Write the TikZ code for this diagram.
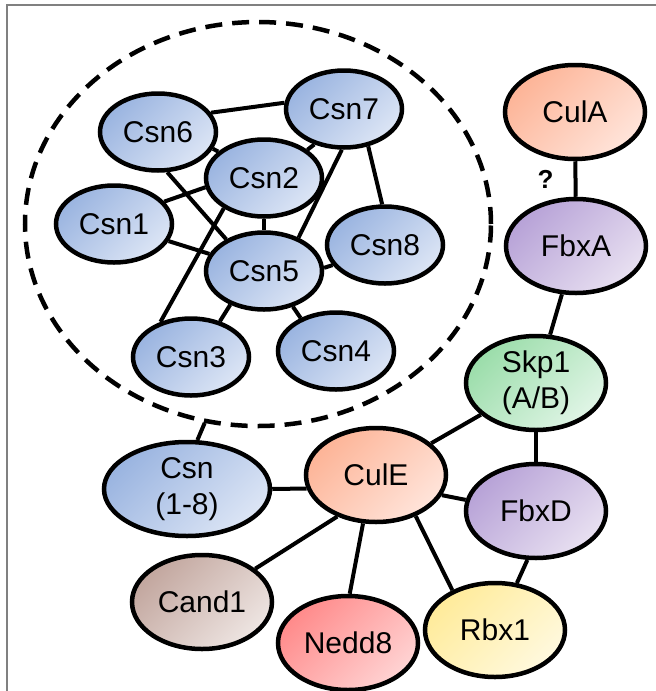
\documentclass[tikz,border=0pt]{standalone}
\usepackage{fontspec}
\setmainfont{Liberation Sans}
\usetikzlibrary{shapes.geometric}

\definecolor{bluedark}{HTML}{9AB4E0}
\definecolor{bluelight}{HTML}{DCE5F5}
\definecolor{salmondark}{HTML}{FDB497}
\definecolor{salmonlight}{HTML}{FFE4DA}
\definecolor{purpledark}{HTML}{B7A2D7}
\definecolor{purplelight}{HTML}{E8E0F1}
\definecolor{greendark}{HTML}{9BDDAA}
\definecolor{greenlight}{HTML}{E0F5E6}
\definecolor{browndark}{HTML}{C2A69E}
\definecolor{brownlight}{HTML}{EEE5E2}
\definecolor{reddark}{HTML}{FF8A8A}
\definecolor{redlight}{HTML}{FFD3D3}
\definecolor{yellowdark}{HTML}{FFEB9A}
\definecolor{yellowlight}{HTML}{FFF9DE}
\definecolor{framegray}{HTML}{808080}

\begin{document}
\begin{tikzpicture}[x=1pt, y=-1pt,
  prot/.style={ellipse, draw, line width=4.5pt, inner sep=0pt,
    minimum width=140pt, minimum height=94pt, align=center,
    font=\fontsize{30}{36}\selectfont},
  sub/.style={minimum width=116pt, minimum height=77pt},
  grad/.style 2 args={top color=#1, bottom color=#2, shading angle=45},
  csnfill/.style={grad={bluedark}{bluelight}},
  culfill/.style={grad={salmondark}{salmonlight}},
  fbxfill/.style={grad={purpledark}{purplelight}},
  skpfill/.style={grad={greendark}{greenlight}},
  candfill/.style={grad={browndark}{brownlight}},
  neddfill/.style={grad={reddark}{redlight}},
  rbxfill/.style={grad={yellowdark}{yellowlight}},
  link/.style={line width=4pt}]

  \useasboundingbox (0,0) rectangle (656,691);
  \draw[framegray, line width=2pt] (7,691) -- (7,5) -- (656,5);

  % signalosome subunits
  \node[ellipse, draw, line width=4.5pt, dash pattern=on 17pt off 10pt, inner sep=0pt,
    minimum width=466pt, minimum height=404pt] (cop) at (258,224) {};
  \node[prot, sub, csnfill] (csn6) at (158,132) {Csn6};
  \node[prot, sub, csnfill] (csn7) at (344,109) {Csn7};
  \node[prot, sub, csnfill] (csn2) at (264,178) {Csn2};
  \node[prot, sub, csnfill] (csn1) at (114,224) {Csn1};
  \node[prot, sub, csnfill] (csn5) at (264,271) {Csn5};
  \node[prot, sub, csnfill] (csn8) at (385,245) {Csn8};
  \node[prot, sub, csnfill] (csn3) at (191,357) {Csn3};
  \node[prot, sub, csnfill] (csn4) at (336,351) {Csn4};

  % cullin complexes
  \node[prot, csnfill, minimum width=166pt] (csn) at (187,489) {Csn\\(1-8)};
  \node[prot, culfill] (culE) at (376,475) {CulE};
  \node[prot, candfill] (cand1) at (202,602) {Cand1};
  \node[prot, neddfill] (nedd8) at (348,643) {Nedd8};
  \node[prot, rbxfill] (rbx1) at (495,630) {Rbx1};
  \node[prot, fbxfill] (fbxD) at (536,511) {FbxD};
  \node[prot, skpfill] (skp1) at (536,383) {Skp1\\(A/B)};
  \node[prot, fbxfill] (fbxA) at (576,246) {FbxA};
  \node[prot, culfill] (culA) at (575,112) {CulA};

  \draw[link] (csn6.20) -- (csn7.174);
  \draw[link] (csn6.343) -- (csn2.150);
  \draw[link] (csn6.283) -- (csn5.140);
  \draw[link] (csn1.24) -- (csn2.189);
  \draw[link] (csn1) -- (csn5);
  \draw[link] (csn2.33) -- (csn7.230);
  \draw[link] (csn2) -- (csn5);
  \draw[link] (csn2.217) -- (csn3.131);
  \draw[link] (csn7.267) -- (csn5.44);
  \draw[link] (csn7.303) -- (csn8.94);
  \draw[link] (csn5.3) -- (csn8.201);
  \draw[link] (csn5.225) -- (csn3.51);
  \draw[link] (csn5.309) -- (csn4.137);

  \draw[link] (csn.78) -- (cop.255);
  \draw[link] (csn.east) -- (culE.191);
  \draw[link] (culE) -- (skp1);
  \draw[link] (culE.343) -- (fbxD.171);
  \draw[link] (culE.227) -- (cand1.32);
  \draw[link] (culE.255) -- (nedd8.88);
  \draw[link] (culE.314) -- (rbx1.137);
  \draw[link] (skp1) -- (fbxD);
  \draw[link] (fbxA) -- (skp1);
  \draw[link] (fbxD.260) -- (rbx1.65);
  \draw[link] (culA) -- node[left=20pt, inner sep=0pt,
    font=\bfseries\fontsize{26}{30}\selectfont] {?} (fbxA);
\end{tikzpicture}
\end{document}
